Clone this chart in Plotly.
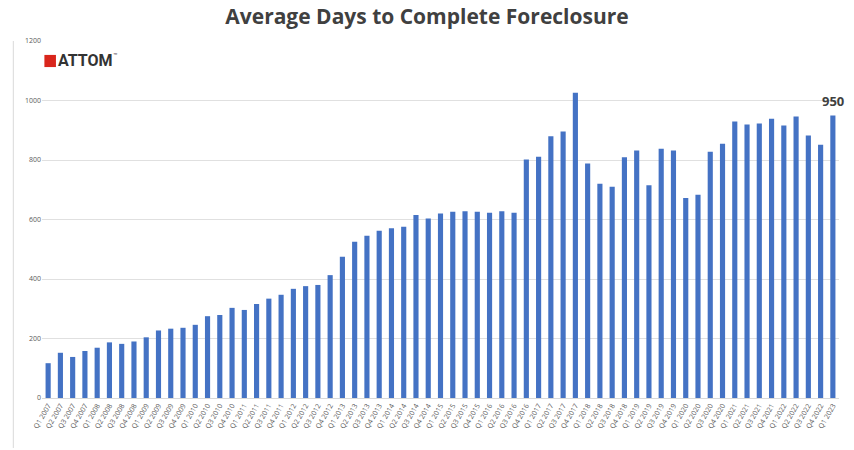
import plotly.graph_objects as go

quarters = []
for yr in range(2007, 2023):
    for q in range(1, 5):
        quarters.append(f"Q{q} {yr}")
quarters.append("Q1 2023")

days = [117, 152, 138, 158, 169, 187, 182, 190, 204, 227, 233, 236, 246, 275, 279, 303,
        296, 316, 334, 347, 367, 376, 380, 413, 475, 525, 545, 562, 571, 576, 615, 603,
        620, 626, 628, 626, 623, 628, 623, 802, 811, 880, 896, 1026, 788, 720, 710, 809,
        832, 715, 838, 832, 672, 683, 828, 855, 929, 919, 923, 939, 916, 946, 882, 851,
        950]

y_ticks = [0, 200, 400, 600, 800, 1000, 1200]

fig = go.Figure()
fig.add_trace(go.Bar(x=quarters, y=days, marker=dict(color="#4472C4", line=dict(width=0)),
                     hoverinfo="x+y"))

fig.add_annotation(x=quarters[-1], y=days[-1], text="<b>950</b>", showarrow=False,
                   yshift=14, xshift=0, font=dict(family="Open Sans", size=13, color="#404040"))

# ATTOM logo (text-based)
fig.add_shape(type="rect", xref="paper", yref="paper", x0=0.003, x1=0.0175, y0=0.927, y1=0.961,
              fillcolor="#D9261C", line=dict(width=0))
fig.add_annotation(xref="paper", yref="paper", x=0.018, y=0.944, xanchor="left", yanchor="middle",
                   text="<b>ATTOM</b>", showarrow=False,
                   font=dict(family="Roboto", size=16, color="#333333"))
fig.add_annotation(xref="paper", yref="paper", x=0.086, y=0.958, xanchor="left", yanchor="middle",
                   text="™", showarrow=False,
                   font=dict(family="Roboto", size=7, color="#333333"))

fig.add_shape(type="line", xref="paper", yref="paper", x0=-0.036, x1=-0.036, y0=1.0, y1=-0.14,
              line=dict(color="#d9d9d9", width=1))

fig.update_layout(
    width=854, height=450,
    margin=dict(l=42, r=15, t=41, b=52),
    paper_bgcolor="white", plot_bgcolor="white",
    bargap=0.58,
    showlegend=False,
    title=dict(text="<b>Average Days to Complete Foreclosure</b>", x=0.5, xanchor="center",
               y=0.962, yanchor="middle",
               font=dict(family="Open Sans", size=21, color="#404040")),
    xaxis=dict(type="category", tickangle=-60, automargin=False, range=[-0.5, 64.5],
               tickfont=dict(family="Open Sans", size=7, color="#595959"),
               showgrid=False, showline=True, linecolor="#d9d9d9", linewidth=1, ticks=""),
    yaxis=dict(range=[0, 1200], tickvals=y_ticks, showgrid=True, gridcolor="#e0e0e0", gridwidth=1,
               zeroline=False, showline=False, automargin=False,
               tickfont=dict(family="Open Sans", size=7, color="#595959")),
)

fig.write_html("out.html")
